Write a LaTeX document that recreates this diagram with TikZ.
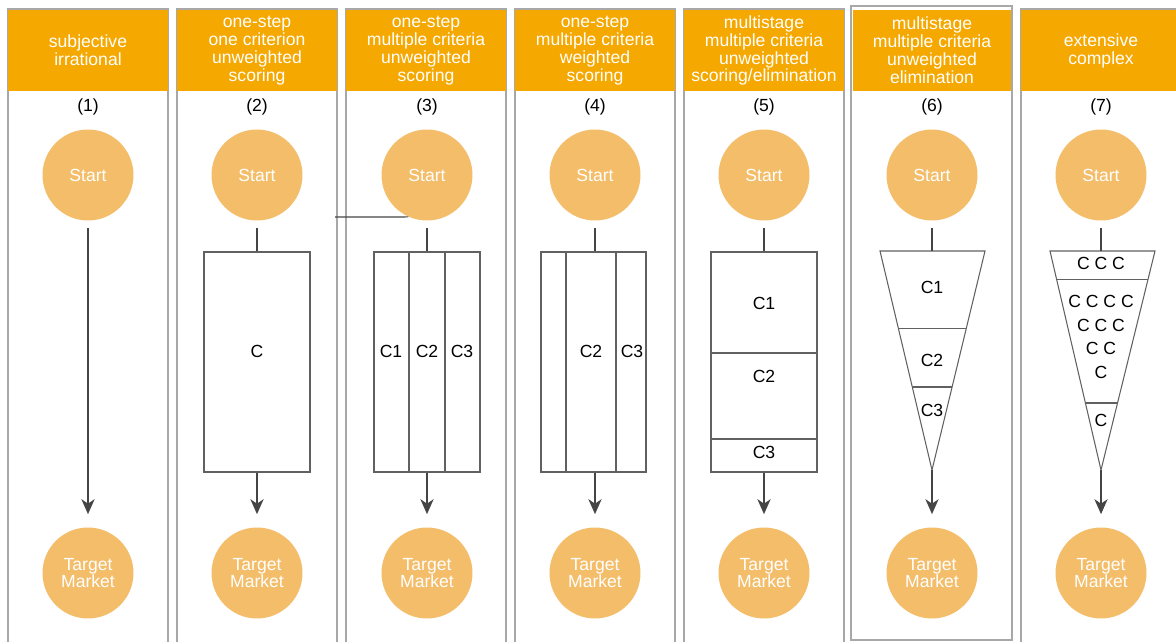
\documentclass[tikz,border=0pt]{standalone}
\usepackage{fontspec}
\setmainfont{Liberation Sans}
\usetikzlibrary{arrows.meta,calc}
\definecolor{HeadOrange}{HTML}{F5A800}
\definecolor{CircOrange}{HTML}{F3BD69}
\definecolor{FrameGray}{HTML}{A8A8A8}
\definecolor{LineGray}{HTML}{454545}

\begin{document}
\begin{tikzpicture}[x=0.02cm,y=-0.02cm,>={Stealth[length=8.5pt,width=7.5pt,inset=2.5pt]}]
\tikzstyle{column}=[draw=FrameGray,line width=0.7pt]
\tikzstyle{head}=[rectangle,fill=HeadOrange,text=white,minimum width=3.2cm,minimum height=1.62cm,inner sep=0pt,align=center,font=\fontsize{10}{10.2}\selectfont]
\tikzstyle{num}=[font=\fontsize{10}{12}\selectfont]
\tikzstyle{circ}=[circle,fill=CircOrange,text=white,minimum size=1.82cm,inner sep=0pt,align=center,font=\fontsize{10}{10.2}\selectfont]
\tikzstyle{crit}=[rectangle,draw=LineGray!85,line width=0.6pt,minimum width=2.12cm,minimum height=4.4cm]
\tikzstyle{lbl}=[font=\fontsize{10}{12}\selectfont,inner sep=1pt]
\tikzstyle{conn}=[draw=LineGray,line width=0.9pt]
\tikzstyle{part}=[draw=LineGray!85,line width=0.6pt]
\useasboundingbox (0,0) rectangle (1176,642);
\clip (0,0) rectangle (1176,642);

% columns
\draw[column] (8,9) rectangle (168,660);
\draw[column] (177,9) rectangle (337,660);
\draw[column] (346,9) rectangle (506,660);
\draw[column] (515,9) rectangle (675,660);
\draw[column] (684,9) rectangle (844,660);
\draw[column] (851,6) rectangle (1012,640);
\draw[column] (1021,9) rectangle (1181,660);

% headers
\node[head] (h1) at (88,50.5) {subjective\\irrational};
\node[head] (h2) at (257,50.5) {one-step\\one criterion\\unweighted\\scoring};
\node[head] (h3) at (426,50.5) {one-step\\multiple criteria\\unweighted\\scoring};
\node[head] (h4) at (595,50.5) {one-step\\multiple criteria\\weighted\\scoring};
\node[head] (h5) at (764,50.5) {multistage\\multiple criteria\\unweighted\\scoring/elimination};
\node[head,minimum width=3.16cm] (h6) at (932,50.5) {multistage\\multiple criteria\\unweighted\\elimination};
\node[head] (h7) at (1101,50.5) {extensive\\complex};

% numbers
\node[num] (n1) at (88,107) {(1)};
\node[num] (n2) at (257,107) {(2)};
\node[num] (n3) at (427,107) {(3)};
\node[num] (n4) at (595,107) {(4)};
\node[num] (n5) at (764,107) {(5)};
\node[num] (n6) at (932,107) {(6)};
\node[num] (n7) at (1101,107) {(7)};

% start and target
\node[circ] (s1) at (88,175) {Start};
\node[circ] (s2) at (257,175) {Start};
\node[circ] (s3) at (427,175) {Start};
\node[circ] (s4) at (595,175) {Start};
\node[circ] (s5) at (764,175) {Start};
\node[circ] (s6) at (932,175) {Start};
\node[circ] (s7) at (1101,175) {Start};
\node[circ] (t1) at (88,573) {Target\\Market};
\node[circ] (t2) at (257,573) {Target\\Market};
\node[circ] (t3) at (427,573) {Target\\Market};
\node[circ] (t4) at (595,573) {Target\\Market};
\node[circ] (t5) at (764,573) {Target\\Market};
\node[circ] (t6) at (932,573) {Target\\Market};
\node[circ] (t7) at (1101,573) {Target\\Market};

% (1)
\draw[conn,->,shorten <=0.15cm,shorten >=0.26cm] (s1) -- (t1);

% (2)
\node[crit] (b2) at (257,362) {};
\node[lbl] (c2) at (257,351) {C};
\draw[conn,shorten <=0.15cm] (s2) -- (b2);
\draw[conn,->,shorten >=0.26cm] (b2) -- (t2);

% (3)
\node[crit] (b3) at (427,362) {};
\draw[part] (409,252) -- (409,472);
\draw[part] (445,252) -- (445,472);
\node[lbl] (c31) at (391,351) {C1};
\node[lbl] (c32) at (427,351) {C2};
\node[lbl] (c33) at (462,351) {C3};
\draw[conn,shorten <=0.15cm] (s3) -- (b3);
\draw[conn,->,shorten >=0.26cm] (b3) -- (t3);
\coordinate (l3) at (335,217);
\draw[conn,line width=0.7pt] (s3.-114) -- (l3);

% (4)
\node[crit,minimum width=2.1cm] (b4) at (593.5,362) {};
\draw[part] (566,252) -- (566,472);
\draw[part] (616,252) -- (616,472);
\node[lbl] (c42) at (591,351) {C2};
\node[lbl] (c43) at (632,351) {C3};
\draw[conn,shorten <=0.15cm] (s4) -- (s4 |- b4.north);
\draw[conn,->,shorten >=0.26cm] (s4 |- b4.south) -- (t4);

% (5)
\node[crit] (b5) at (764,362) {};
\draw[part] (712,353) -- (817,353);
\draw[part] (712,439) -- (817,439);
\node[lbl] (c51) at (764,303) {C1};
\node[lbl] (c52) at (764,376) {C2};
\node[lbl] (c53) at (764,452) {C3};
\draw[conn,shorten <=0.15cm] (s5) -- (b5);
\draw[conn,->,shorten >=0.26cm] (b5) -- (t5);

% (6)
\coordinate (f6l) at (880,251);
\coordinate (f6r) at (985,251);
\coordinate (f6top) at (932,251);
\coordinate (f6tip) at (932,470);
\draw[part] (f6l) -- (f6r) -- (f6tip) -- cycle;
\draw[part] ($(f6l)!0.352!(f6tip)$) -- ($(f6r)!0.352!(f6tip)$);
\draw[part] ($(f6l)!0.621!(f6tip)$) -- ($(f6r)!0.621!(f6tip)$);
\node[lbl] (c61) at (932,287) {C1};
\node[lbl] (c62) at (932,360) {C2};
\node[lbl] (c63) at (932,410) {C3};
\draw[conn,shorten <=0.15cm] (s6) -- (f6top);
\draw[conn,->,shorten >=0.26cm] (f6tip) -- (t6);

% (7)
\coordinate (f7l) at (1050,251);
\coordinate (f7r) at (1155,251);
\coordinate (f7top) at (1101,251);
\coordinate (f7tip) at (1101,470);
\draw[part] (f7l) -- (f7r) -- (f7tip) -- cycle;
\draw[part] ($(f7l)!0.128!(f7tip)$) -- ($(f7r)!0.128!(f7tip)$);
\draw[part] ($(f7l)!0.694!(f7tip)$) -- ($(f7r)!0.694!(f7tip)$);
\node[lbl] (c71) at (1101,263) {C C C};
\node[lbl,align=center,font=\fontsize{10}{13.6}\selectfont] (c72) at (1101,337) {C C C C\\C C C\\C C\\C};
\node[lbl] (c73) at (1101,420) {C};
\draw[conn,shorten <=0.15cm] (s7) -- (f7top);
\draw[conn,->,shorten >=0.26cm] (f7tip) -- (t7);
\end{tikzpicture}
\end{document}
